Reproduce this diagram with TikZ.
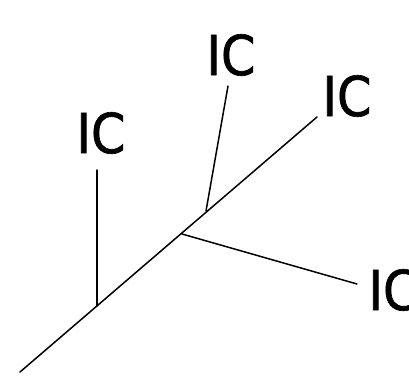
\documentclass[tikz,border=0pt]{standalone}
\usepackage{fontspec}
\newfontfamily\icfont{DejaVu Sans Condensed}[FakeBold=1.2]
\begin{document}
\begin{tikzpicture}[x=1pt,y=-1pt,
  branch/.style={line width=1.5pt,line cap=round},
  lbl/.style={inner sep=0pt,font=\icfont\fontsize{55}{60}\selectfont}]
\useasboundingbox (0,0) rectangle (409,380);
% trunk
\coordinate (root) at (20,372);
\coordinate (tip) at (317,117);
% junctions on the trunk
\coordinate (j1) at (97,306);
\coordinate (j2) at (206,211);
\coordinate (j3) at (182,234);
% free ends of the side branches
\coordinate (e1) at (97,170);
\coordinate (e2) at (228,86);
\coordinate (e3) at (357,284);
% labels
\node[lbl] (l1) at (101,133) {IC};
\node[lbl] (l2) at (231,55) {IC};
\node[lbl] (l3) at (347,96) {IC};
\node[lbl] (l4) at (393,290) {IC};
\draw[branch] (root) -- (tip);
\draw[branch] (j1) -- (e1);
\draw[branch] (j2) -- (e2);
\draw[branch] (j3) -- (e3);
\end{tikzpicture}
\end{document}
